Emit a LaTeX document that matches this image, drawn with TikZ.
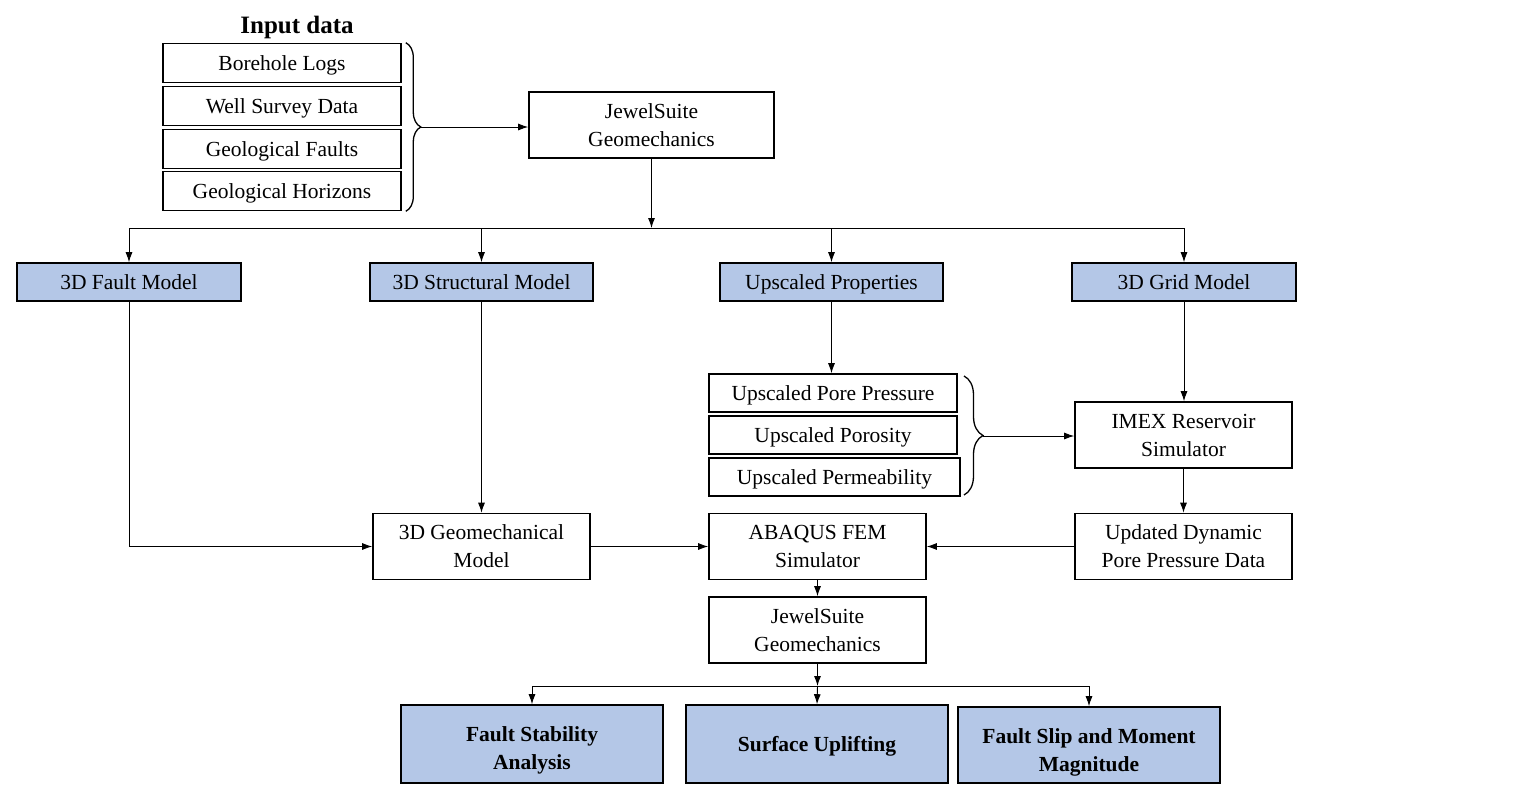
\documentclass[tikz,border=0pt]{standalone}
\usepackage{fontspec}
\setmainfont{Liberation Serif}
\usetikzlibrary{arrows.meta,decorations.pathreplacing,calc}
\definecolor{boxblue}{RGB}{180,199,231}
\tikzset{
  box/.style={draw=black, line width=1.6pt, rectangle, inner sep=0pt, align=center,
    font=\fontsize{21.5}{28}\selectfont},
  one/.style={text height=14.7pt, text depth=0pt},
  bluebox/.style={box, one, fill=boxblue},
  resbox/.style={box, fill=boxblue, font=\fontsize{21.5}{28}\selectfont\bfseries},
  conn/.style={line width=0.9pt},
  arr/.style={conn, -{Latex[length=10pt,width=7pt]}},
  brc/.style={line width=1.3pt, decorate, decoration={brace, amplitude=#1, aspect=0.5}},
  brc/.default=14pt
}
\begin{document}
\begin{tikzpicture}[x=1pt,y=-1pt]
\useasboundingbox (0,0) rectangle (1527,785);
% title
\node[font=\fontsize{25}{28}\selectfont\bfseries] (title) at (297,27) {Input data};
% input boxes
\node[box, one, minimum width=238pt, minimum height=39pt] (b1) at (282,63) {Borehole Logs};
\node[box, one, minimum width=238pt, minimum height=39pt] (b2) at (282,106) {Well Survey Data};
\node[box, one, minimum width=238pt, minimum height=39pt] (b3) at (282,149) {Geological Faults};
\node[box, one, minimum width=238pt, minimum height=39pt] (b4) at (282,191) {Geological Horizons};
% jewelsuite top
\node[box, minimum width=245pt, minimum height=66pt] (js1) at (651.5,125) {JewelSuite\\Geomechanics};
% blue models
\node[bluebox, minimum width=224pt, minimum height=38pt] (fm) at (129,282) {3D Fault Model};
\node[bluebox, minimum width=223pt, minimum height=38pt] (sm) at (481.5,282) {3D Structural Model};
\node[bluebox, minimum width=223pt, minimum height=38pt] (up) at (831.5,282) {Upscaled Properties};
\node[bluebox, minimum width=224pt, minimum height=38pt] (gm) at (1184,282) {3D Grid Model};
% upscaled list
\node[box, one, minimum width=248pt, minimum height=38pt] (u1) at (833,393) {Upscaled Pore Pressure};
\node[box, one, minimum width=248pt, minimum height=38pt] (u2) at (833,435) {Upscaled Porosity};
\node[box, one, minimum width=251pt, minimum height=38pt] (u3) at (834.5,477) {Upscaled Permeability};
% imex etc
\node[box, minimum width=217pt, minimum height=66pt] (imex) at (1183.5,435) {IMEX Reservoir\\Simulator};
\node[box, minimum width=217pt, minimum height=66pt] (upd) at (1183.5,546.5) {Updated Dynamic\\Pore Pressure Data};
\node[box, minimum width=217pt, minimum height=66pt] (aba) at (817.5,546.5) {ABAQUS FEM\\Simulator};
\node[box, minimum width=217pt, minimum height=66pt] (geo) at (481.5,546.5) {3D Geomechanical\\Model};
\node[box, minimum width=217pt, minimum height=66pt] (js2) at (817.5,630) {JewelSuite\\Geomechanics};
% results
\node[resbox, text height=50pt, text depth=0pt, minimum width=262pt, minimum height=78pt] (r1) at (532,744) {Fault Stability\\Analysis};
\node[resbox, text height=14.7pt, text depth=-5pt, minimum width=262pt, minimum height=78pt] (r2) at (817,744) {Surface Uplifting};
\node[resbox, text height=52pt, text depth=0pt, minimum width=262pt, minimum height=76pt] (r3) at (1089,745) {Fault Slip and Moment\\Magnitude};

% brace 1
\draw[brc=15pt] ($(b1.north east)+(4,0)$) -- ($(b4.south east)+(4,0)$);
\coordinate (bt1) at ($(b1.north east)!0.5!(b4.south east)+(19,0)$);
\draw[arr] (bt1) -- (bt1 -| js1.west);
% bus 1
\coordinate (bus) at (js1.south |- 0,228);
\draw[arr] (js1.south) -- (bus);
\coordinate (bl) at (fm.north |- 0,228);
\coordinate (br) at (gm.north |- 0,228);
\draw[conn] (bl) -- (br);
\draw[arr] (bl) -- (fm.north);
\draw[arr] (sm.north |- 0,228) -- (sm.north);
\draw[arr] (up.north |- 0,228) -- (up.north);
\draw[arr] (br) -- (gm.north);
% upscaled
\draw[arr] (up.south) -- (up.south |- u1.north);
\draw[brc=19pt] (964,376) -- (964,495);
\coordinate (bt2) at (983,436);
\draw[arr] (bt2) -- (bt2 -| imex.west);
\draw[arr] (gm.south) -- (gm.south |- imex.north);
\draw[arr] (imex.south) -- (upd.north);
\draw[arr] (upd.west) -- (aba.east);
\draw[arr] (geo.east) -- (aba.west);
\draw[arr] (sm.south) -- (sm.south |- geo.north);
\draw[arr] (fm.south) |- (geo.west);
\draw[arr] (aba.south) -- (js2.north);
% bus 2
\coordinate (bus2) at (js2.south |- 0,686);
\draw[arr] (js2.south) -- (bus2);
\draw[conn] (r1.north |- bus2) -- (r3.north |- bus2);
\draw[arr] (r1.north |- bus2) -- (r1.north);
\draw[arr] (bus2) -- (r2.north);
\draw[arr] (r3.north |- bus2) -- (r3.north);
\end{tikzpicture}
\end{document}
